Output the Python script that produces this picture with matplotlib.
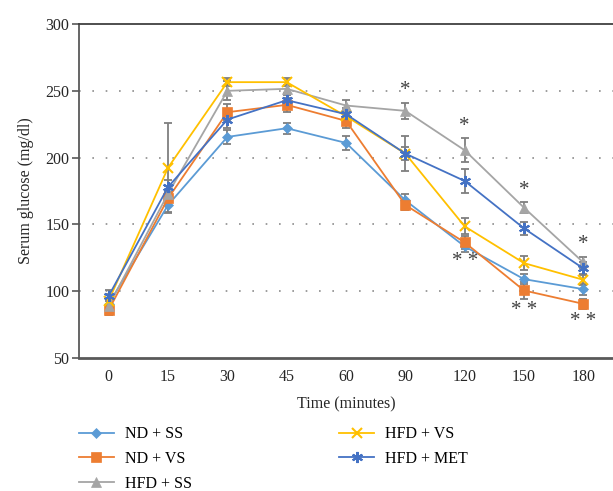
import numpy as np
import matplotlib
matplotlib.use("Agg")
import matplotlib.pyplot as plt

plt.rcParams['font.family'] = ['Liberation Serif', 'DejaVu Serif']

time_labels = ['0', '15', '30', '45', '60', '90', '120', '150', '180']

nd_ss = [90.5, 164.5, 215.5, 222.0, 211.0, 168.0, 133.5, 109.0, 101.5]
nd_vs = [86.0, 169.5, 234.0, 239.5, 227.5, 164.5, 136.5, 100.5, 90.5]
hfd_ss = [89.0, 173.0, 250.0, 251.5, 239.0, 235.0, 205.5, 162.5, 121.5]
hfd_vs = [93.0, 192.5, 256.5, 256.5, 231.0, 203.0, 148.5, 121.0, 108.5]
hfd_met = [96.5, 178.0, 228.5, 243.0, 232.5, 203.0, 182.5, 147.0, 117.0]

nd_ss_err = [4, 6, 5, 4, 5, 5, 4, 4, 4]
nd_vs_err = [4, 5, 6, 5, 5, 4, 5, 6, 4]
hfd_ss_err = [5, 6, 7, 3, 4, 6, 9, 4, 4]
hfd_vs_err = [5, 33.5, 3, 3, 5, 5, 6, 5, 4]
hfd_met_err = [4, 5, 6, 4, 5, 13, 9, 5, 5]

single_star = [5, 6, 7, 8]   # above HFD + SS
double_star = [6, 7, 8]      # below ND + VS

series = [
    ('ND + SS', nd_ss, nd_ss_err, '#5B9BD5', 'D', 5.5),
    ('ND + VS', nd_vs, nd_vs_err, '#ED7D31', 's', 7),
    ('HFD + SS', hfd_ss, hfd_ss_err, '#A5A5A5', '^', 7),
    ('HFD + VS', hfd_vs, hfd_vs_err, '#FFC000', 'x', 7),
    ('HFD + MET', hfd_met, hfd_met_err, '#4472C4', (6, 2, 0), 8),
]

fig = plt.figure(figsize=(6.13, 4.91), dpi=100)
ax = fig.add_axes([0.129, 0.271, 0.871, 0.680])

x = np.arange(len(time_labels))
for name, vals, err, color, marker, ms in series:
    ax.errorbar(x, vals, yerr=err, fmt='none', ecolor='#7F7F7F',
                elinewidth=1.3, capsize=3, capthick=1.3, zorder=2)
    ax.plot(x, vals, color=color, marker=marker, markersize=ms, lw=1.3,
            markeredgewidth=1.5 if marker in ('x', (6, 2, 0)) else 0.5,
            markeredgecolor=color, label=name, zorder=3)

for i in single_star:
    ax.text(x[i], hfd_ss[i] + hfd_ss_err[i] + 2, '*', ha='center', va='bottom',
            fontsize=15, color='#404040')
for i in double_star:
    ax.text(x[i], nd_vs[i] - nd_vs_err[i] - 2, '* *', ha='center', va='top',
            fontsize=15, color='#404040')

ax.set_xlim(-0.5, len(time_labels) - 0.5)
ax.set_ylim(50, 300)
ax.set_xticks(x)
ax.set_xticklabels(time_labels)
ax.set_yticks([50, 100, 150, 200, 250, 300])

for y in [100, 150, 200, 250]:
    ax.axhline(y, color='#8C8C8C', lw=1.2, linestyle=(0, (1, 7)), zorder=1)

ax.spines['right'].set_visible(False)
ax.spines['left'].set_color('#595959')
ax.spines['left'].set_linewidth(1.3)
ax.spines['bottom'].set_color('#595959')
ax.spines['bottom'].set_linewidth(2)
ax.spines['top'].set_color('#404040')
ax.spines['top'].set_linewidth(1.3)

ax.tick_params(axis='x', length=0, labelsize=11.5, pad=8, colors='#262626')
ax.tick_params(axis='y', length=5, width=1.2, color='#595959', labelsize=11.5,
               pad=2, labelcolor='#262626')

ax.set_xlabel('Time (minutes)', fontsize=11.5, color='#262626', labelpad=8)
ax.set_ylabel('Serum glucose (mg/dl)', fontsize=11.5, color='#262626', labelpad=8)

fig.legend(loc='upper left', bbox_to_anchor=(0.118, 0.145), ncol=2,
           frameon=False, fontsize=11.5, handlelength=2.2, handletextpad=0.7,
           columnspacing=9.2, labelspacing=0.55, borderaxespad=0)

fig.savefig('out.png', dpi=100)
